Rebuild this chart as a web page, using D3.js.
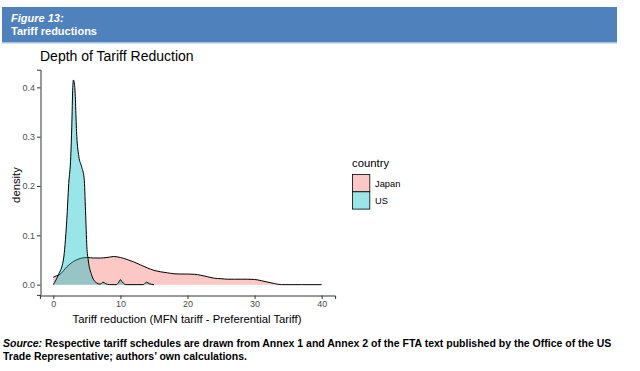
<!DOCTYPE html>
<html>
<head>
<meta charset="utf-8">
<script src="https://cdn.jsdelivr.net/npm/d3@7"></script>
<style>
	body { margin: 0; background: #fff; }
	svg { display: block; font-family: "Liberation Sans", Arial, sans-serif; }
</style>
</head>
<body>
<svg width="640" height="371"></svg>
<script>
// density estimates
const japanX = [0, 0.5, 1, 2, 3, 4, 5, 6, 7, 8, 9, 10, 11, 12, 13, 14, 15, 16, 17, 18, 19, 20, 21, 22, 23, 24, 25, 26, 27, 28, 29, 30, 31, 32, 33, 34, 37, 40];
const japanY = [0.015, 0.018, 0.021, 0.036, 0.047, 0.053, 0.055, 0.054, 0.054, 0.055, 0.057, 0.055, 0.051, 0.046, 0.04, 0.034, 0.029, 0.026, 0.024, 0.022, 0.0215, 0.0215, 0.021, 0.019, 0.016, 0.013, 0.012, 0.011, 0.011, 0.011, 0.011, 0.0105, 0.008, 0.005, 0.002, 0, 0, 0];

const usX = [0, 0.75, 1.5, 2, 2.3, 2.6, 2.75, 2.9, 3.0, 3.2, 3.5, 3.8, 4.2, 4.6, 4.8, 5.0, 5.2, 5.7, 6.4, 7.0, 7.4, 7.8, 8.4, 9.4, 9.8, 10.0, 10.3, 10.8, 13.4, 13.9, 14.3, 15];
const usY = [0, 0.02, 0.05, 0.13, 0.205, 0.26, 0.32, 0.40, 0.415, 0.40, 0.30, 0.26, 0.24, 0.215, 0.15, 0.077, 0.05, 0.02, 0.004, 0.001, 0.005, 0.002, 0, 0, 0.006, 0.01, 0.005, 0, 0, 0.005, 0.002, 0];

const countries = ["Japan", "US"];
const colours = ["#F8766D", "#00BFC4"];
const xTicks = [0, 10, 20, 30, 40];
const yTicks = [0, 0.1, 0.2, 0.3, 0.4];

const svg = d3.select("svg");

// figure header
svg.append("rect")
	.attr("x", 2).attr("y", 7)
	.attr("width", 615).attr("height", 35)
	.attr("fill", "#4F81BD");
svg.append("rect")
	.attr("x", 2).attr("y", 42)
	.attr("width", 615).attr("height", 1.5)
	.attr("fill", "#A9C3E2");
svg.append("text")
	.attr("x", 11).attr("y", 21.5)
	.attr("fill", "#fff")
	.style("font-size", "11px").style("font-weight", "bold").style("font-style", "italic")
	.text("Figure 13:");
svg.append("text")
	.attr("x", 11).attr("y", 35)
	.attr("fill", "#fff")
	.style("font-size", "11px").style("font-weight", "bold")
	.text("Tariff reductions");

const x = d3.scaleLinear().domain([-2, 42]).range([39.9, 335.1]);
const y = d3.scaleLinear().domain([-0.0208, 0.4358]).range([294.9, 69.7]);

svg.append("text")
	.attr("x", 40).attr("y", 61)
	.style("font-size", "14px")
	.text("Depth of Tariff Reduction");

// areas
const series = [
	{ name: "Japan", pts: japanX.map((d, i) => [d, japanY[i]]) },
	{ name: "US", pts: usX.map((d, i) => [d, usY[i]]) }
];
const color = d3.scaleOrdinal().domain(countries).range(colours);

const area = d3.area()
	.x(d => x(d[0]))
	.y0(y(0))
	.y1(d => y(d[1]))
	.curve(d3.curveMonotoneX);
const line = d3.line()
	.x(d => x(d[0]))
	.y(d => y(d[1]))
	.curve(d3.curveMonotoneX);

const plot = svg.append("g");
series.forEach(function(s) {
	plot.append("path")
		.attr("d", area(s.pts))
		.attr("fill", color(s.name))
		.attr("fill-opacity", 0.4);
	plot.append("path")
		.attr("d", line(s.pts))
		.attr("fill", "none")
		.attr("stroke", "#000")
		.attr("stroke-width", 1);
});

// axes
const xAxis = svg.append("g")
	.attr("transform", "translate(0," + 295.5 + ")")
	.call(d3.axisBottom(x).tickValues(xTicks).tickSize(3.5).tickPadding(2).tickFormat(d3.format("d")));
const yAxis = svg.append("g")
	.attr("transform", "translate(" + 40.5 + ",0)")
	.call(d3.axisLeft(y).tickValues(yTicks).tickSize(3.5).tickPadding(2).tickFormat(d3.format(".1f")));

[xAxis, yAxis].forEach(function(a) {
	a.select(".domain").attr("stroke", "#333").attr("stroke-width", 1);
	a.selectAll(".tick line").attr("stroke", "#333");
	a.selectAll(".tick text")
		.attr("fill", "#4D4D4D")
		.style("font-size", "9px")
		.style("font-family", "Liberation Sans, Arial, sans-serif");
});

svg.append("text")
	.attr("x", 187).attr("y", 322.5)
	.attr("text-anchor", "middle")
	.style("font-size", "11.3px")
	.text("Tariff reduction (MFN tariff - Preferential Tariff)");
svg.append("text")
	.attr("transform", "translate(20,185) rotate(-90)")
	.attr("text-anchor", "middle")
	.style("font-size", "11.3px")
	.text("density");

// legend
const legend = svg.append("g").attr("class", "legend");
legend.append("text")
	.attr("x", 352).attr("y", 166.5)
	.style("font-size", "11.3px")
	.text("country");
countries.forEach(function(c, i) {
	legend.append("rect")
		.attr("x", 352.5).attr("y", 174.5 + i * 17.3)
		.attr("width", 17.3).attr("height", 17.3)
		.attr("fill", "#fff");
	legend.append("rect")
		.attr("x", 352.5).attr("y", 174.5 + i * 17.3)
		.attr("width", 17.3).attr("height", 17.3)
		.attr("fill", color(c)).attr("fill-opacity", 0.4)
		.attr("stroke", "#000").attr("stroke-width", 0.8);
	legend.append("text")
		.attr("x", 375).attr("y", 186.5 + i * 17.3)
		.style("font-size", "9.3px")
		.text(c);
});

// source note
const src1 = svg.append("text")
	.attr("x", 3).attr("y", 347)
	.style("font-size", "10.5px").style("font-weight", "bold");
src1.append("tspan").style("font-style", "italic").text("Source:");
src1.append("tspan").text(" Respective tariff schedules are drawn from Annex 1 and Annex 2 of the FTA text published by the Office of the US");
svg.append("text")
	.attr("x", 3).attr("y", 359.5)
	.style("font-size", "10.5px").style("font-weight", "bold")
	.text("Trade Representative; authors\u2019 own calculations.");
</script>
</body>
</html>
